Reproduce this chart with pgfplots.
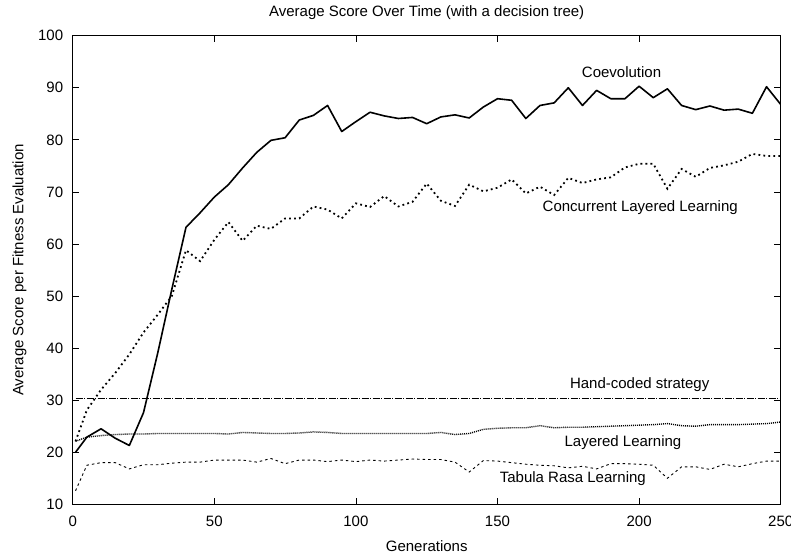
\documentclass[border=0pt]{standalone}
\usepackage{fontspec}
\setmainfont{Liberation Sans}
\usepackage{pgfplots}
\pgfplotsset{compat=1.18}

% one table per series
\pgfplotstableread{
x y
1 20.0
5 22.9
10 24.5
15 22.7
20 21.3
25 27.6
30 39.0
35 51.3
40 63.2
45 66.0
50 69.0
55 71.4
60 74.6
65 77.6
70 79.9
75 80.4
80 83.8
85 84.7
90 86.6
95 81.6
100 83.5
105 85.3
110 84.6
115 84.1
120 84.3
125 83.1
130 84.4
135 84.8
140 84.2
145 86.3
150 87.9
155 87.6
160 84.1
165 86.6
170 87.1
175 90.0
180 86.6
185 89.5
190 87.9
195 87.9
200 90.3
205 88.1
210 89.8
215 86.6
220 85.8
225 86.5
230 85.7
235 85.9
240 85.1
245 90.2
250 86.8
}\coevo

\pgfplotstableread{
x y
1 22.1
5 28.1
10 32.0
15 35.2
20 38.8
25 43.0
30 46.4
35 50.0
40 58.8
45 56.7
50 60.8
55 64.2
60 60.6
65 63.5
70 62.9
75 64.9
80 64.9
85 67.2
90 66.6
95 64.9
100 67.8
105 67.1
110 69.2
115 67.2
120 68.1
125 71.6
130 68.3
135 67.3
140 71.4
145 70.1
150 70.8
155 72.4
160 69.7
165 71.0
170 69.4
175 72.7
180 71.7
185 72.4
190 72.8
195 74.7
200 75.4
205 75.4
210 70.6
215 74.4
220 72.9
225 74.6
230 75.1
235 75.8
240 77.3
245 76.9
250 76.9
}\concurrent

\pgfplotstableread{
x y
1 22.1
5 22.9
10 23.2
15 23.4
20 23.5
25 23.5
30 23.6
35 23.6
40 23.6
45 23.6
50 23.6
55 23.5
60 23.8
65 23.7
70 23.6
75 23.6
80 23.7
85 23.9
90 23.8
95 23.6
100 23.6
105 23.6
110 23.6
115 23.6
120 23.6
125 23.6
130 23.8
135 23.4
140 23.6
145 24.4
150 24.6
155 24.7
160 24.7
165 25.1
170 24.7
175 24.8
180 24.8
185 24.9
190 25.0
195 25.1
200 25.2
205 25.3
210 25.5
215 25.1
220 25.0
225 25.3
230 25.3
235 25.3
240 25.4
245 25.5
250 25.8
}\layered

\pgfplotstableread{
x y
1 12.6
5 17.5
10 18.0
15 18.0
20 16.8
25 17.6
30 17.6
35 17.9
40 18.1
45 18.1
50 18.5
55 18.5
60 18.5
65 18.1
70 18.8
75 17.8
80 18.5
85 18.5
90 18.2
95 18.5
100 18.2
105 18.5
110 18.3
115 18.5
120 18.7
125 18.6
130 18.6
135 18.1
140 16.2
145 18.4
150 18.3
155 18.0
160 17.7
165 17.5
170 17.4
175 17.0
180 17.3
185 16.8
190 17.8
195 17.8
200 17.7
205 17.5
210 15.0
215 17.2
220 17.2
225 16.7
230 17.7
235 17.2
240 17.8
245 18.3
250 18.3
}\tabula

\begin{document}
\begin{tikzpicture}[font=\fontsize{15}{18}\selectfont]
\begin{axis}[
    scale only axis,
    width=708pt,
    height=468.6pt,
    xmin=0, xmax=250,
    ymin=10, ymax=100,
    xtick={0,50,...,250},
    ytick={10,20,...,100},
    minor tick num=0,
    tick align=inside,
    major tick length=6.5pt,
    axis line style={line width=1pt},
    every tick/.style={black, line width=0.8pt},
    /pgf/number format/assume math mode=true,
    xticklabel style={anchor=base, yshift=-21.7pt, inner sep=0pt},
    yticklabel style={anchor=east, xshift=-9.4pt, inner sep=0pt},
    title={Average Score Over Time (with a decision tree)},
    title style={at={(axis description cs:0.5,1.0277)}, anchor=base, inner sep=0pt},
    xlabel={Generations},
    xlabel style={at={(axis description cs:0.5,-0.1011)}, anchor=base, inner sep=0pt},
    ylabel={Average Score per Fitness Evaluation},
    ylabel style={at={(axis description cs:-0.0696,0.5)}, anchor=base, inner sep=0pt},
]
\addplot[black, line width=1.6pt, line join=round] table {\coevo};
\addplot[black, line width=1.8pt, dash pattern=on 1.8pt off 3.2pt] table {\concurrent};
\addplot[black, line width=0.9pt, dash pattern=on 7pt off 1.5pt on 1pt off 1.5pt] coordinates {(1,30.3) (250,30.3)};
\addplot[black, line width=1.4pt, dash pattern=on 1pt off 1pt] table {\layered};
\addplot[black, line width=0.9pt, dash pattern=on 2.5pt off 3pt] table {\tabula};

\node at (axis cs:193.8,93.0) {Coevolution};
\node at (axis cs:200.4,66.9) {Concurrent Layered Learning};
\node at (axis cs:200.2,32.9) {Hand-coded strategy};
\node at (axis cs:194.3,21.8) {Layered Learning};
\node at (axis cs:176.6,15.0) {Tabula Rasa Learning};
\end{axis}
\pgfresetboundingbox
\path (-72.7pt,-50.7pt) rectangle (718.3pt,504.3pt);
\end{tikzpicture}
\end{document}
